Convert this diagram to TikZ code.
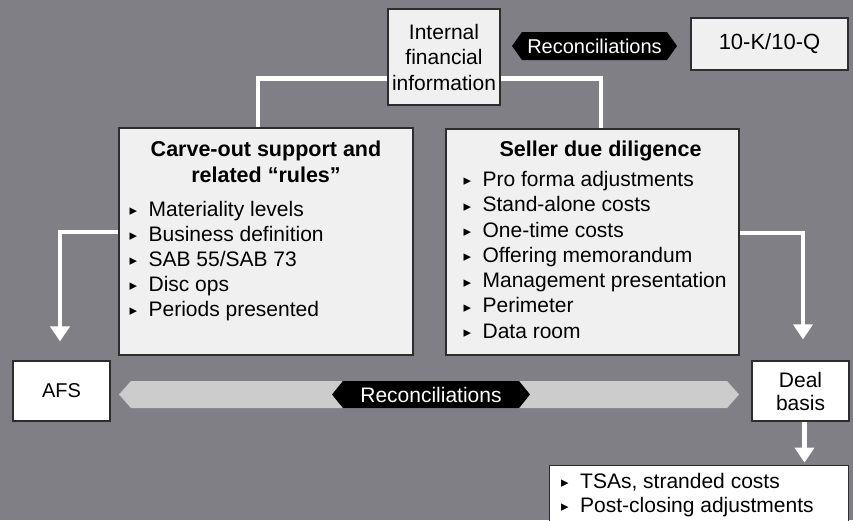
\documentclass[tikz,border=0pt]{standalone}
\usepackage{fontspec}
\setmainfont{Liberation Sans}
\newfontfamily\symfont{DejaVu Sans}
\usetikzlibrary{arrows.meta, positioning, shapes.symbols, calc}
\definecolor{bggray}{RGB}{128,127,133}
\definecolor{boxgray}{RGB}{240,240,240}
\definecolor{bandgray}{RGB}{204,204,204}
\definecolor{edgegray}{RGB}{45,45,45}
\newcommand{\blt}{\makebox[19pt][l]{\raisebox{0.5pt}{\symfont\fontsize{15}{15}\selectfont ▸}}}
\tikzset{
  blk/.style ={rectangle, draw=edgegray, line width=1.2pt, fill=boxgray, inner sep=0pt, align=center, font=\fontsize{21}{25.5}\selectfont},
  wblk/.style={blk, fill=white},
  tag/.style ={signal, signal to=west and east, fill=black, text=white, inner sep=0pt, font=\fontsize{20}{24}\selectfont},
  band/.style={signal, signal to=west and east, fill=bandgray, inner sep=0pt},
  itm/.style ={anchor=base west, inner sep=0pt, font=\fontsize{21}{25}\selectfont},
  ttl/.style ={anchor=base, inner sep=0pt, font=\bfseries\fontsize{21.5}{26}\selectfont},
  ln/.style  ={draw=white, line width=4.5pt},
  fl/.style  ={ln, -{Triangle[width=19pt, length=15pt]}},
}
\begin{document}
\begin{tikzpicture}[x=1pt, y=-1pt]
\clip (0,0) rectangle (853,520);
\fill[bggray] (0,0) rectangle (853,520);

% top row
\node[blk, minimum width=112pt, minimum height=96pt] (internal) at (444,57) {Internal\\financial\\information};
\node[tag, minimum width=165pt, minimum height=28pt, signal pointer angle=109] (rectop) at (594.5,46) {Reconciliations};
\node[blk, minimum width=157pt, minimum height=52pt, font=\fontsize{22}{26}\selectfont] (tenk) at (769.5,44) {10-K/10-Q};

% middle boxes
\node[blk, minimum width=294pt, minimum height=227pt] (carve) at (266,241.5) {};
\node[blk, minimum width=293pt, minimum height=226pt] (seller) at (592.5,242) {};

% carve-out contents
\node[ttl] (cvttl1) at ($(carve.north)+(0,29)$) {Carve-out support and};
\node[ttl] (cvttl2) at ($(carve.north)+(0,55)$) {related “rules”};
\node[itm] (cvmat) at ($(carve.north west)+(11,89)$) {\blt Materiality levels};
\node[itm] (cvbus) at ($(carve.north west)+(11,114)$) {\blt Business definition};
\node[itm] (cvsab) at ($(carve.north west)+(11,139)$) {\blt SAB 55/SAB 73};
\node[itm] (cvdisc) at ($(carve.north west)+(11,164)$) {\blt Disc ops};
\node[itm] (cvper) at ($(carve.north west)+(11,189)$) {\blt Periods presented};

% seller due diligence contents
\node[ttl] (sdttl) at ($(seller.north)+(8,28)$) {Seller due diligence};
\node[itm] (sdpro) at ($(seller.north west)+(18,58)$) {\blt Pro forma adjustments};
\node[itm] (sdstand) at ($(seller.north west)+(18,83.3)$) {\blt Stand-alone costs};
\node[itm] (sdone) at ($(seller.north west)+(18,108.6)$) {\blt One-time costs};
\node[itm] (sdoffer) at ($(seller.north west)+(18,133.9)$) {\blt Offering memorandum};
\node[itm] (sdmgmt) at ($(seller.north west)+(18,159.2)$) {\blt Management presentation};
\node[itm] (sdperim) at ($(seller.north west)+(18,184.5)$) {\blt Perimeter};
\node[itm] (sddata) at ($(seller.north west)+(18,209.8)$) {\blt Data room};

% bottom row
\node[wblk, minimum width=97pt, minimum height=60pt, font=\fontsize{20}{24}\selectfont] (afs) at (61.5,391) {AFS};
\node[band, minimum width=620pt, minimum height=27pt, signal pointer angle=97] (bandbar) at (429,394.5) {};
\node[tag, minimum width=198pt, minimum height=27pt, signal pointer angle=102, font=\fontsize{21}{24}\selectfont] (recbot) at (431,394.5) {Reconciliations};
\node[wblk, minimum width=97pt, minimum height=60pt, font=\fontsize{21}{23}\selectfont] (deal) at (800.5,391) {Deal\\basis};
\node[wblk, anchor=north west, minimum width=299.5pt, minimum height=90pt] (post) at (548.5,465) {};
\node[itm] (pttsa) at ($(post.north west)+(12.5,23)$) {\blt TSAs, stranded costs};
\node[itm] (ptpost) at ($(post.north west)+(12.5,47)$) {\blt Post-closing adjustments};

% connectors
\draw[ln] ($(internal.south west)+(0,-27)$) -| ($(carve.north)+(-8,0)$);
\draw[ln] ($(internal.south east)+(0,-27)$) -| ($(seller.north)+(8.5,0)$);
\draw[fl] ($(carve.west)+(0,-9.5)$) -| ($(afs.north)+(-1.5,-19)$);
\draw[fl] ($(seller.east)+(0,-9)$) -| ($(deal.north)+(2.5,-21)$);
\draw[fl] ($(deal.south)+(4,0)$) -- ($(deal.south)+(4,41)$);

\end{tikzpicture}
\end{document}
